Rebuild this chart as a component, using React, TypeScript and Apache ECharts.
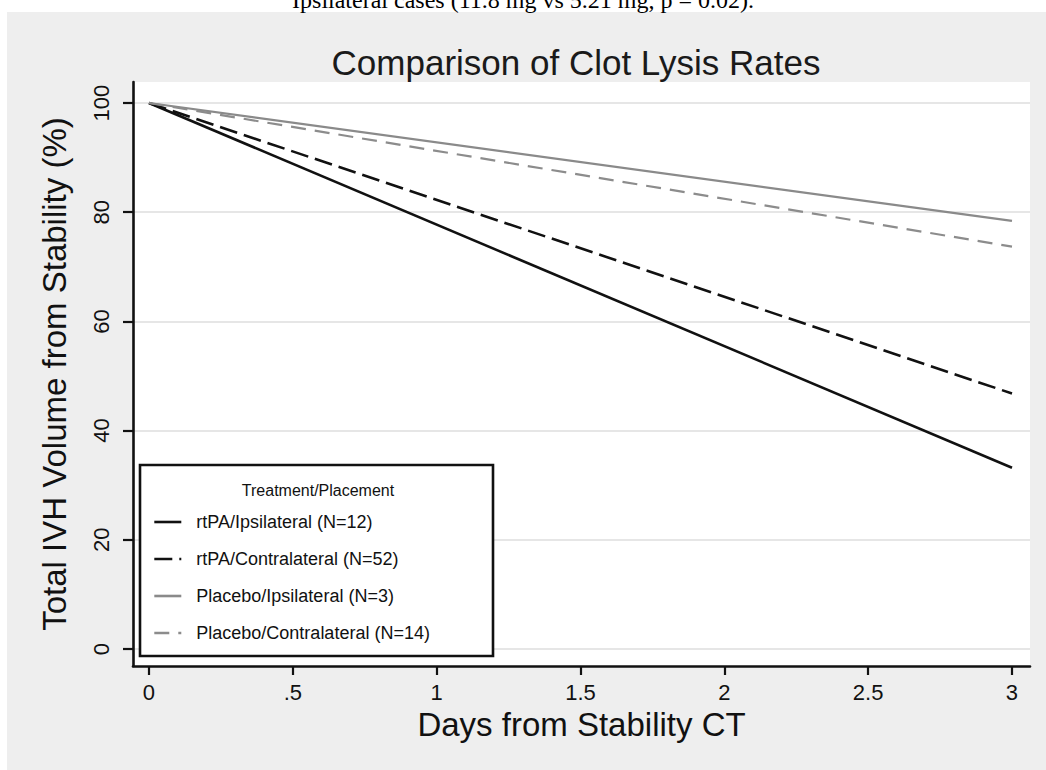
import React, { useEffect, useRef } from "react";
import * as echarts from "echarts";

const days = [0, 3];
const rtpaIpsi = [100, 33.2];
const rtpaContra = [100, 46.8];
const placeboIpsi = [100, 78.4];
const placeboContra = [100, 73.7];

const seriesNames = [
  "rtPA/Ipsilateral (N=12)",
  "rtPA/Contralateral (N=52)",
  "Placebo/Ipsilateral (N=3)",
  "Placebo/Contralateral (N=14)",
];
const xTicks = [0, 0.5, 1, 1.5, 2, 2.5, 3];
const yTicks = [0, 20, 40, 60, 80, 100];

const titleText = "Comparison of Clot Lysis Rates";
const xTitle = "Days from Stability CT";
const yTitle = "Total IVH Volume from Stability (%)";
const legendTitle = "Treatment/Placement";
const caption = "Ipsilateral cases (11.8 mg vs 5.21 mg, p = 0.02).";

const FONT = "Liberation Sans, Arial, Helvetica, sans-serif";

export default function App() {
  const ref = useRef<HTMLDivElement>(null);
  useEffect(() => {
    if (!ref.current) return;
    const chart = echarts.init(ref.current, undefined, { renderer: "svg" });
    const mk = (vals: number[]) => days.map((d, i) => [d, vals[i]]);
    const styles = [
      { color: "#111111", width: 2.6, type: "solid" as any },
      { color: "#111111", width: 2.6, type: [18, 7] as any },
      { color: "#8a8a8a", width: 2.2, type: "solid" as any },
      { color: "#8c8c8c", width: 2.2, type: [15, 9] as any },
    ];
    const datas = [rtpaIpsi, rtpaContra, placeboIpsi, placeboContra];
    chart.setOption({
      animation: false,
      backgroundColor: "#eeeeee",
      grid: {
        left: 133,
        top: 82,
        right: 16,
        bottom: 104,
        show: true,
        backgroundColor: "#ffffff",
        borderWidth: 0,
      },
      xAxis: {
        type: "value",
        min: -0.0556,
        max: 3.0626,
        name: xTitle,
        nameLocation: "middle",
        nameGap: 39,
        nameTextStyle: { fontFamily: FONT, fontSize: 33, color: "#111" },
        axisLine: { show: true, onZero: false, lineStyle: { color: "#111", width: 2.6 } },
        axisTick: {
          show: true,
          length: 9,
          lineStyle: { color: "#111", width: 2.2 },
          customValues: xTicks,
        },
        axisLabel: {
          customValues: xTicks,
          fontFamily: FONT,
          fontSize: 22,
          color: "#111",
          margin: 15,
          formatter: (v: number) => (v === 0 ? "0" : String(v).replace(/^0\./, ".")),
        },
        splitLine: { show: false },
      },
      yAxis: {
        type: "value",
        min: -3.11,
        max: 103.85,
        name: yTitle,
        nameLocation: "middle",
        nameGap: 62,
        nameTextStyle: { fontFamily: FONT, fontSize: 33, color: "#111" },
        axisLine: { show: true, onZero: false, lineStyle: { color: "#111", width: 2.6 } },
        axisTick: {
          show: true,
          length: 10,
          lineStyle: { color: "#111", width: 2.2 },
          customValues: yTicks,
        },
        axisLabel: {
          customValues: yTicks,
          rotate: 90,
          fontFamily: FONT,
          fontSize: 22,
          color: "#111",
          margin: 21,
        },
        splitLine: {
          show: true,
          lineStyle: { color: "#e6e6e6", width: 2 },
        },
      },
      legend: {
        orient: "vertical",
        left: 153,
        top: 513,
        padding: 0,
        itemGap: 19,
        itemWidth: 27,
        itemHeight: 14,
        z: 20,
        selectedMode: false,
        itemStyle: { opacity: 0, borderWidth: 0 },
        lineStyle: { width: 2.6 },
        textStyle: {
          fontFamily: FONT,
          fontSize: 18,
          color: "#111",
          padding: [0, 0, 0, 10],
        },
        data: seriesNames,
      },
      graphic: [
        { type: "rect", z: 1, shape: { x: 0, y: 0, width: 1046, height: 12 }, style: { fill: "#ffffff" } },
        { type: "rect", z: 1, shape: { x: 0, y: 0, width: 7, height: 770 }, style: { fill: "#ffffff" } },
        {
          type: "text",
          z: 2,
          x: 523,
          y: 0,
          style: {
            text: caption,
            font: '24px "Liberation Serif", "Times New Roman", serif',
            fill: "#000",
            textAlign: "center",
            textVerticalAlign: "middle",
          },
        },
        {
          type: "text",
          z: 5,
          x: 576,
          y: 62,
          style: {
            text: titleText,
            font: `35px ${FONT}`,
            fill: "#1a1a1a",
            textAlign: "center",
            textVerticalAlign: "middle",
          },
        },
        {
          type: "rect",
          z: 10,
          shape: { x: 140, y: 465, width: 353, height: 191 },
          style: { fill: "#ffffff", stroke: "#111", lineWidth: 2.6 },
        },
        {
          type: "text",
          z: 11,
          x: 318,
          y: 490,
          style: {
            text: legendTitle,
            font: `16px ${FONT}`,
            fill: "#111",
            textAlign: "center",
            textVerticalAlign: "middle",
          },
        },
      ],
      series: seriesNames.map((name, i) => ({
        name,
        type: "line",
        data: mk(datas[i]),
        symbol: "none",
        showSymbol: false,
        lineStyle: styles[i],
        itemStyle: { color: styles[i].color },
        z: 3,
      })),
    });
    return () => chart.dispose();
  }, []);
  return (
    <div
      ref={ref}
      style={{ position: "fixed", left: 0, top: 0, width: 1046, height: 770 }}
    />
  );
}
